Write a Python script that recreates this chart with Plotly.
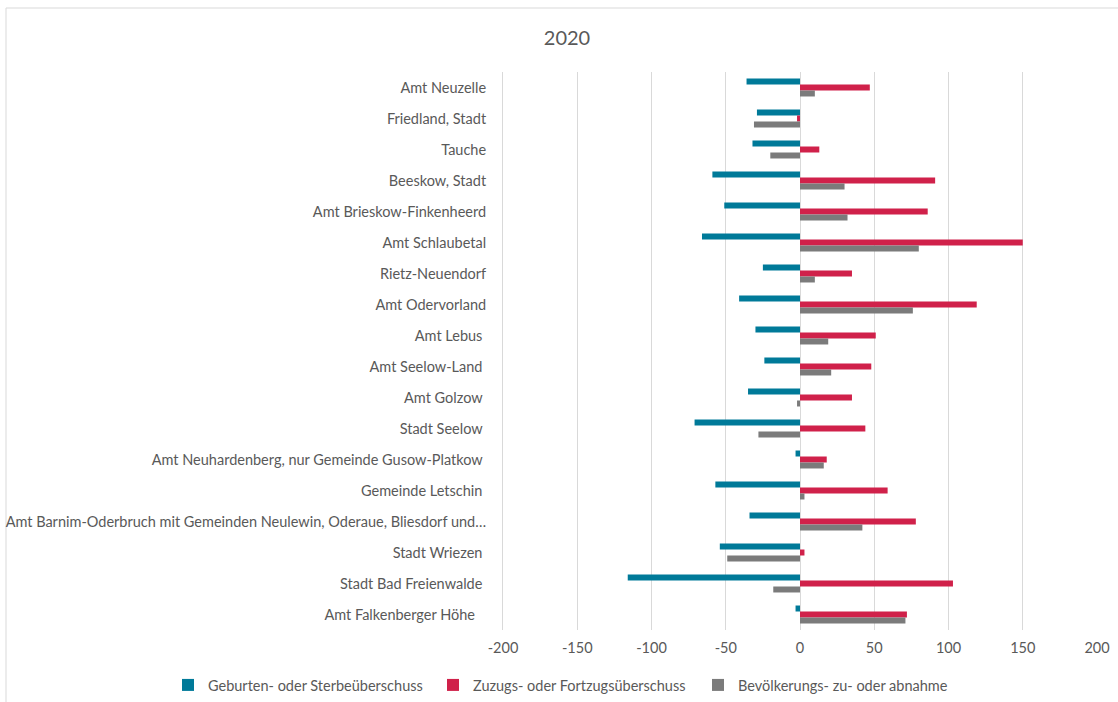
import plotly.graph_objects as go

categories = [
    "Amt Neuzelle",
    "Friedland, Stadt",
    "Tauche",
    "Beeskow, Stadt",
    "Amt Brieskow-Finkenheerd",
    "Amt Schlaubetal",
    "Rietz-Neuendorf",
    "Amt Odervorland",
    "Amt Lebus\u00a0",
    "Amt Seelow-Land\u00a0",
    "Amt Golzow\u00a0",
    "Stadt Seelow\u00a0",
    "Amt Neuhardenberg, nur Gemeinde Gusow-Platkow\u00a0",
    "Gemeinde Letschin\u00a0",
    "Amt Barnim-Oderbruch mit Gemeinden Neulewin, Oderaue, Bliesdorf und…",
    "Stadt Wriezen\u00a0",
    "Stadt Bad Freienwalde\u00a0",
    "Amt Falkenberger Höhe\u00a0\u00a0\u00a0",
]

geburten = [-36, -29, -32, -59, -51, -66, -25, -41, -30, -24, -35, -71, -3, -57, -34, -54, -116, -3]
zuzug = [47, -2, 13, 91, 86, 150, 35, 119, 51, 48, 35, 44, 18, 59, 78, 3, 103, 72]
bevoelkerung = [10, -31, -20, 30, 32, 80, 10, 76, 19, 21, -2, -28, 16, 3, 42, -49, -18, 71]

series_names = [
    "Geburten- oder Sterbeüberschuss",
    "Zuzugs- oder Fortzugsüberschuss",
    "Bevölkerungs- zu- oder abnahme",
]
colors = ["#007A99", "#D0214A", "#7B7B7B"]
x_ticks = [-200, -150, -100, -50, 0, 50, 100, 150, 200]

FONT = "Lato"
TXT = "#595959"
FS = 14.5

fig = go.Figure()
for name, vals, col in zip(series_names, [geburten, zuzug, bevoelkerung], colors):
    fig.add_trace(go.Bar(
        y=categories, x=vals, name=name, orientation="h",
        marker=dict(color=col, line=dict(width=0)),
    ))

W, H = 1118, 702
L, R, T, B = 503, 21, 72, 72
pw, ph = W - L - R, H - T - B

def px(xp):
    return (xp - L) / pw

def py(yp):
    return (H - B - yp) / ph

fig.update_layout(
    width=W, height=H,
    margin=dict(l=L, r=R, t=T, b=B, autoexpand=False),
    paper_bgcolor="white", plot_bgcolor="white",
    barmode="group", bargap=0.42, bargroupgap=0,
    font=dict(family=FONT, size=FS, color=TXT),
    title=dict(text="2020", x=567 / W, xanchor="center", xref="container",
               y=1 - 38 / H, yanchor="middle", yref="container",
               font=dict(family=FONT, size=20, color=TXT)),
    xaxis=dict(range=[-200, 200], tickvals=x_ticks, ticktext=[str(v) for v in x_ticks],
               showgrid=True, gridcolor="#D9D9D9", gridwidth=1,
               zeroline=False, showline=False, ticks="", ticklabelstandoff=7,
               tickfont=dict(family=FONT, size=FS, color=TXT), fixedrange=True),
    yaxis=dict(autorange="reversed", showgrid=False, showline=True,
               linecolor="#D9D9D9", linewidth=1, ticks="", ticklabelstandoff=13,
               tickfont=dict(family=FONT, size=FS, color=TXT), fixedrange=True),
    legend=dict(orientation="h", xref="paper", x=px(168), xanchor="left",
                yref="paper", y=py(685), yanchor="middle", entrywidth=220,
                font=dict(family=FONT, size=FS, color=TXT), traceorder="normal"),
    shapes=[dict(type="rect", xref="paper", yref="paper",
                 x0=px(6), x1=px(1130), y0=py(712), y1=py(8),
                 line=dict(color="#D9D9D9", width=1), fillcolor="rgba(0,0,0,0)",
                 layer="below")],
)

fig.write_html("out.html", config={"displayModeBar": False},
               post_script="document.body.style.margin='0';")
